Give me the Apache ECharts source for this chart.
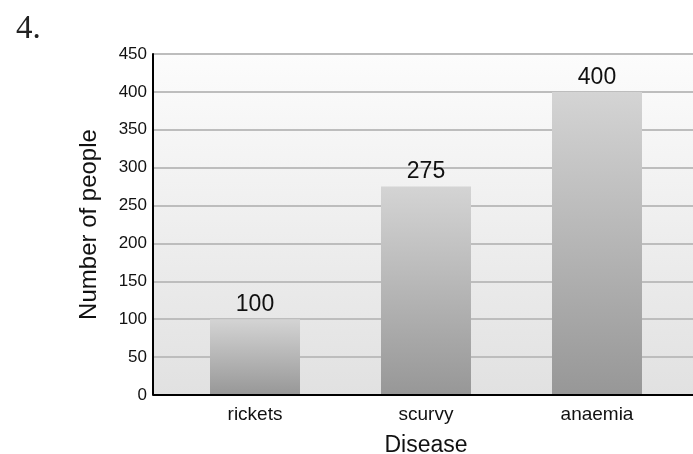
<!DOCTYPE html>
<html>
<head>
<meta charset="utf-8">
<script src="https://cdn.jsdelivr.net/npm/echarts@6/dist/echarts.min.js"></script>
<style>
  html, body { margin: 0; padding: 0; background: #fff; }
  #chart { width: 693px; height: 454px; }
</style>
</head>
<body>
<div id="chart"></div>
<script>
const diseases = ['rickets', 'scurvy', 'anaemia']
const people = [100, 275, 400]
const yMax = 450
const yStep = 50

const chart = echarts.init(document.getElementById('chart'))

const font = 'Liberation Sans, Arial, sans-serif'

const option = {
  animation: false,
  title: {
    text: '4.',
    left: 11,
    top: 8,
    textStyle: { fontFamily: 'Liberation Serif, serif', fontSize: 33, fontWeight: 'normal', color: '#222' }
  },
  grid: [
    // background, gridlines and y axis
    { left: 153, top: 54, right: 0, bottom: 59, outerBoundsMode: 'none', show: true, borderWidth: 0,
      backgroundColor: new echarts.graphic.LinearGradient(0, 0, 0, 1, [
        { offset: 0, color: '#fcfcfc' },
        { offset: 1, color: '#e1e1e1' }
      ]) },
    // bars
    { left: 169.5, top: 54, right: 10.5, bottom: 59, outerBoundsMode: 'none' }
  ],
  xAxis: [
    { gridIndex: 0, type: 'category', data: diseases, show: false },
    {
      gridIndex: 1,
      type: 'category',
      data: diseases,
      name: 'Disease',
      nameLocation: 'middle',
      nameGap: 39,
      nameTextStyle: { fontFamily: font, fontSize: 23, color: '#111' },
      axisLine: { show: false },
      axisTick: { show: false },
      axisLabel: { margin: 10, fontFamily: font, fontSize: 19, color: '#111' }
    }
  ],
  yAxis: [
    {
      gridIndex: 0,
      type: 'value',
      min: 0,
      max: yMax,
      interval: yStep,
      name: 'Number of people',
      nameLocation: 'middle',
      nameGap: 52,
      nameTextStyle: { fontFamily: font, fontSize: 24, color: '#111' },
      axisLine: { show: true, lineStyle: { color: '#000', width: 2 } },
      axisTick: { show: false },
      axisLabel: { margin: 6, fontFamily: font, fontSize: 17, color: '#111' },
      splitLine: { show: true, lineStyle: { color: '#bdbdbd', width: 2 } }
    },
    { gridIndex: 1, type: 'value', min: 0, max: yMax, interval: yStep, show: false, splitLine: { show: false } }
  ],
  series: [
    {
      // x axis baseline drawn over the background grid
      type: 'line',
      xAxisIndex: 0,
      yAxisIndex: 0,
      data: [],
      markLine: {
        silent: true,
        symbol: 'none',
        label: { show: false },
        lineStyle: { color: '#000', width: 2, type: 'solid' },
        data: [{ yAxis: 0 }]
      }
    },
    {
      type: 'bar',
      xAxisIndex: 1,
      yAxisIndex: 1,
      data: people,
      barWidth: 90,
      itemStyle: {
        color: new echarts.graphic.LinearGradient(0, 0, 0, 1, [
          { offset: 0, color: '#d4d4d4' },
          { offset: 1, color: '#979797' }
        ])
      },
      label: {
        show: true,
        position: 'top',
        distance: 3,
        fontFamily: font,
        fontSize: 23,
        color: '#111'
      }
    }
  ]
}

chart.setOption(option)
window.addEventListener('resize', () => chart.resize())
</script>
</body>
</html>
